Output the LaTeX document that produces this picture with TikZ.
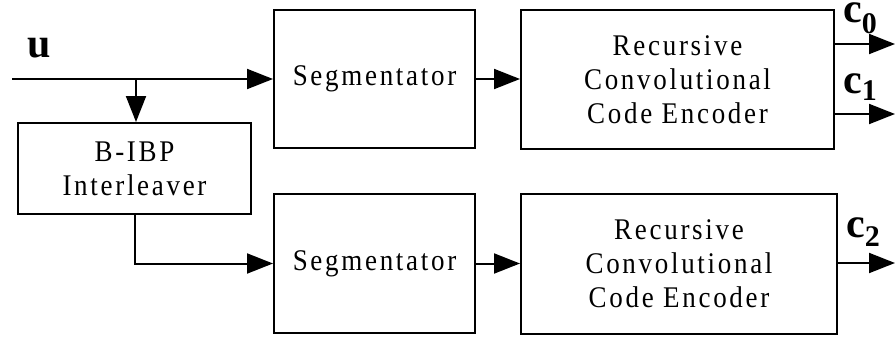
\documentclass[tikz,border=0pt]{standalone}
\usepackage{fontspec}
\setmainfont{Liberation Serif}
\newfontfamily\trk[LetterSpace=9,FakeStretch=0.9]{Liberation Serif}
\usetikzlibrary{arrows.meta}
\begin{document}
\begin{tikzpicture}[x=1pt,y=-1pt,
  blk/.style={draw,line width=2pt,inner sep=0pt,align=center,
    font=\trk\fontsize{30}{34}\selectfont},
  conn/.style={line width=2pt,-{Triangle[length=26pt,width=20pt]}},
  lbl/.style={inner sep=0pt,anchor=base west,font=\bfseries\fontsize{42}{42}\selectfont}]
\useasboundingbox (0,0) rectangle (895,340);
\node[blk,minimum width=201pt,minimum height=138pt] (seg1) at (374.5,79) {Segmentator};
\node[blk,minimum width=201pt,minimum height=139pt] (seg2) at (374.5,263.5) {Segmentator};
\node[blk,minimum width=313pt,minimum height=139pt] (rcc1) at (677.5,79.5) {Recursive\\Convolutional\\Code Encoder};
\node[blk,minimum width=316pt,minimum height=140pt] (rcc2) at (679,264) {Recursive\\Convolutional\\Code Encoder};
\node[blk,minimum width=233pt,minimum height=91pt] (bibp) at (134.5,168.5) {B-IBP\\Interleaver};
\coordinate (in) at (12,79);
\coordinate (br) at (136,79);
\coordinate (o0) at (895,44);
\coordinate (o1) at (895,114);
\coordinate (o2) at (895,263);
\draw[conn] (in) -- (in -| seg1.west);
\draw[conn] (br) -- (br |- bibp.north);
\draw[conn] (bibp.south) |- (seg2.west);
\draw[conn] (seg1.east) -- (seg1.east -| rcc1.west);
\draw[conn] (seg2.east) -- (seg2.east -| rcc2.west);
\draw[conn] (rcc1.east |- o0) -- (o0);
\draw[conn] (rcc1.east |- o1) -- (o1);
\draw[conn] (rcc2.east |- o2) -- (o2);
\node[lbl] (u) at (27,57) {u};
\node[lbl] (c0) at (843,23) {c\raisebox{-10pt}{\fontsize{30}{30}\selectfont 0}};
\node[lbl] (c1) at (843,93) {c\raisebox{-7pt}{\fontsize{30}{30}\selectfont 1}};
\node[lbl] (c2) at (846,237) {c\raisebox{-9pt}{\fontsize{30}{30}\selectfont 2}};
\end{tikzpicture}
\end{document}
